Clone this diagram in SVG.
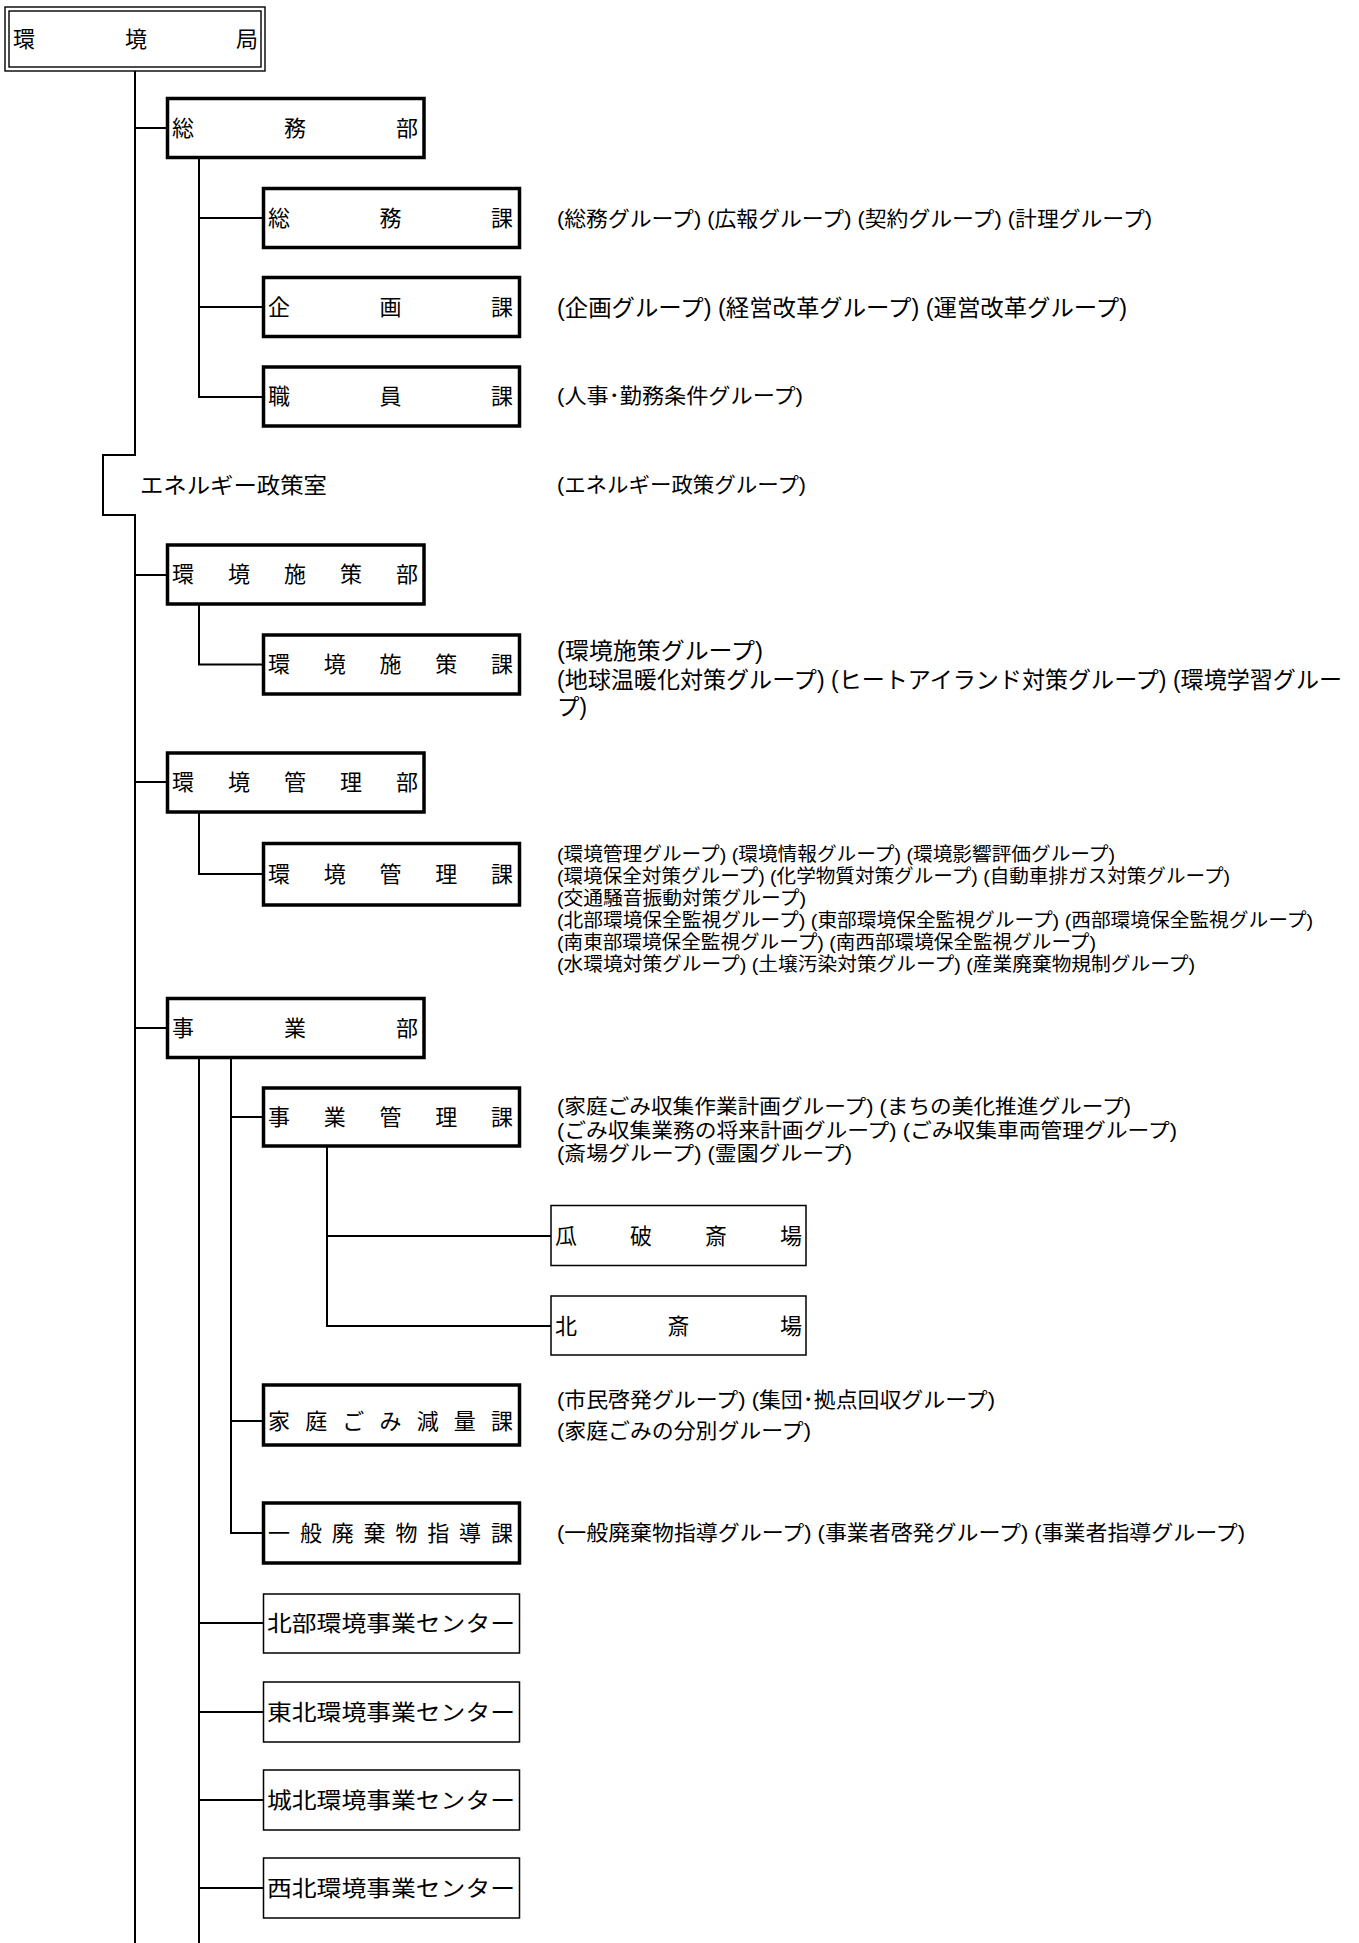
<svg xmlns="http://www.w3.org/2000/svg" width="1359" height="1943" viewBox="0 0 1359 1943">
<style>
.bg{fill:#fff}
.thick{fill:#fff;stroke:#000;stroke-width:3.5}
.thin{fill:#fff;stroke:#000;stroke-width:1.5}
.dbl{fill:none;stroke:#000;stroke-width:1.4}
.con{fill:none;stroke:#000;stroke-width:2}
text{font-family:"Noto Sans CJK JP","Noto Sans CJK SC",sans-serif;fill:#000}
.bx{font-size:22px}
.g,.g19,.g23,.g20{font-family:"Liberation Sans","Noto Sans CJK JP",sans-serif}
.g{font-size:21px}
.g20{font-size:20.5px}
.g19{font-size:19px}
.g23{font-size:23px}
</style>
<rect class="bg" x="0" y="0" width="1359" height="1943"/>
<g id="connectors">
<path class="con" d="M135,71 V455 H103 V515 H135 V1943"/>
<path class="con" d="M135,128 H167.5 M135,575 H167.5 M135,782 H167.5 M135,1028 H167.5"/>
<path class="con" d="M199,157.5 V397 H263.5 M199,218 H263.5 M199,307 H263.5"/>
<path class="con" d="M199,604 V664.5 H263.5"/>
<path class="con" d="M199,812 V874 H263.5"/>
<path class="con" d="M199,1057.5 V1943 M199,1623 H263.5 M199,1712 H263.5 M199,1800 H263.5 M199,1888 H263.5"/>
<path class="con" d="M231,1057.5 V1533 H263.5 M231,1117 H263.5 M231,1421 H263.5"/>
<path class="con" d="M327,1146 V1326 H551 M327,1236 H551"/>
</g>
<g id="kankyokyoku">
<rect class="dbl" x="5" y="7" width="260" height="64"/>
<rect class="dbl" x="9" y="11" width="252" height="56"/>
<text class="bx" x="13 125 236" y="46.5">環境局</text>
</g>
<g id="somubu">
<rect class="thick" x="167.5" y="98.5" width="256.5" height="59"/>
<text class="bx" x="172 284 396" y="135.5">総務部</text>
</g>
<g id="somuka">
<rect class="thick" x="263.5" y="188.5" width="256" height="59"/>
<text class="bx" x="268 379.5 491" y="225.5">総務課</text>
<text class="g" x="557" y="226" textLength="595" lengthAdjust="spacingAndGlyphs">(総務グループ) (広報グループ) (契約グループ) (計理グループ)</text>
</g>
<g id="kikakuka">
<rect class="thick" x="263.5" y="277.5" width="256" height="59"/>
<text class="bx" x="268 379.5 491" y="314.5">企画課</text>
<text class="g23" x="557" y="315.5" textLength="570" lengthAdjust="spacingAndGlyphs">(企画グループ) (経営改革グループ) (運営改革グループ)</text>
</g>
<g id="shokuinka">
<rect class="thick" x="263.5" y="367" width="256" height="59"/>
<text class="bx" x="268 379.5 491" y="404">職員課</text>
<text class="g" x="557" y="403" textLength="246" lengthAdjust="spacingAndGlyphs">(人事･勤務条件グループ)</text>
</g>
<g id="energy">
<text class="bx" x="140" y="493" textLength="187" lengthAdjust="spacingAndGlyphs">エネルギー政策室</text>
<text class="g" x="557" y="492" textLength="249" lengthAdjust="spacingAndGlyphs">(エネルギー政策グループ)</text>
</g>
<g id="shisakubu">
<rect class="thick" x="167.5" y="545" width="256.5" height="59"/>
<text class="bx" x="172 228 284 340 396" y="582">環境施策部</text>
</g>
<g id="shisakuka">
<rect class="thick" x="263.5" y="635" width="256" height="59"/>
<text class="bx" x="268 323.75 379.5 435.25 491" y="672">環境施策課</text>
<text class="g23" x="557" y="658.7" textLength="206" lengthAdjust="spacingAndGlyphs">(環境施策グループ)</text>
<text class="g23" x="557" y="687.7" textLength="785" lengthAdjust="spacingAndGlyphs">(地球温暖化対策グループ) (ヒートアイランド対策グループ) (環境学習グルー</text>
<text class="g23" x="557" y="714.7" textLength="30" lengthAdjust="spacingAndGlyphs">プ)</text>
</g>
<g id="kanribu">
<rect class="thick" x="167.5" y="753" width="256.5" height="59"/>
<text class="bx" x="172 228 284 340 396" y="790">環境管理部</text>
</g>
<g id="kanrika">
<rect class="thick" x="263.5" y="843.5" width="256" height="61.5"/>
<text class="bx" x="268 323.75 379.5 435.25 491" y="881.5">環境管理課</text>
<text class="g19" x="557" y="861" textLength="558" lengthAdjust="spacingAndGlyphs">(環境管理グループ) (環境情報グループ) (環境影響評価グループ)</text>
<text class="g19" x="557" y="883" textLength="673" lengthAdjust="spacingAndGlyphs">(環境保全対策グループ) (化学物質対策グループ) (自動車排ガス対策グループ)</text>
<text class="g19" x="557" y="905" textLength="249" lengthAdjust="spacingAndGlyphs">(交通騒音振動対策グループ)</text>
<text class="g19" x="557" y="927" textLength="756" lengthAdjust="spacingAndGlyphs">(北部環境保全監視グループ) (東部環境保全監視グループ) (西部環境保全監視グループ)</text>
<text class="g19" x="557" y="949" textLength="539" lengthAdjust="spacingAndGlyphs">(南東部環境保全監視グループ) (南西部環境保全監視グループ)</text>
<text class="g19" x="557" y="971" textLength="638" lengthAdjust="spacingAndGlyphs">(水環境対策グループ) (土壌汚染対策グループ) (産業廃棄物規制グループ)</text>
</g>
<g id="jigyobu">
<rect class="thick" x="167.5" y="998.5" width="256.5" height="59"/>
<text class="bx" x="172 284 396" y="1035.5">事業部</text>
</g>
<g id="jigyokanrika">
<rect class="thick" x="263.5" y="1088" width="256" height="58"/>
<text class="bx" x="268 323.75 379.5 435.25 491" y="1124.5">事業管理課</text>
<text class="g20" x="557" y="1114" textLength="574" lengthAdjust="spacingAndGlyphs">(家庭ごみ収集作業計画グループ) (まちの美化推進グループ)</text>
<text class="g20" x="557" y="1137.5" textLength="620" lengthAdjust="spacingAndGlyphs">(ごみ収集業務の将来計画グループ) (ごみ収集車両管理グループ)</text>
<text class="g20" x="557" y="1161" textLength="295" lengthAdjust="spacingAndGlyphs">(斎場グループ) (霊園グループ)</text>
</g>
<g id="uryuri">
<rect class="thin" x="551" y="1205.5" width="255" height="60"/>
<text class="bx" x="555 630 705 780" y="1243.5">瓜破斎場</text>
</g>
<g id="kitasaijo">
<rect class="thin" x="551" y="1296" width="255" height="59"/>
<text class="bx" x="555 667.5 780" y="1333.5">北斎場</text>
</g>
<g id="katei">
<rect class="thick" x="263.5" y="1385" width="256" height="60"/>
<text class="bx" x="268 305.2 342.3 379.5 416.7 453.8 491" y="1429">家庭ごみ減量課</text>
<text class="g" x="557" y="1407" textLength="438" lengthAdjust="spacingAndGlyphs">(市民啓発グループ) (集団･拠点回収グループ)</text>
<text class="g" x="557" y="1438" textLength="254" lengthAdjust="spacingAndGlyphs">(家庭ごみの分別グループ)</text>
</g>
<g id="ippan">
<rect class="thick" x="263.5" y="1503" width="256" height="60"/>
<text class="bx" x="268 299.9 331.7 363.6 395.4 427.3 459.1 491" y="1541">一般廃棄物指導課</text>
<text class="g" x="557" y="1540" textLength="688" lengthAdjust="spacingAndGlyphs">(一般廃棄物指導グループ) (事業者啓発グループ) (事業者指導グループ)</text>
</g>
<g id="hokubu">
<rect class="thin" x="263.5" y="1594" width="256" height="59"/>
<text class="bx" x="267" y="1631" textLength="248" lengthAdjust="spacingAndGlyphs">北部環境事業センター</text>
</g>
<g id="tohoku">
<rect class="thin" x="263.5" y="1682" width="256" height="60"/>
<text class="bx" x="267" y="1720" textLength="248" lengthAdjust="spacingAndGlyphs">東北環境事業センター</text>
</g>
<g id="johoku">
<rect class="thin" x="263.5" y="1770" width="256" height="60"/>
<text class="bx" x="267" y="1808" textLength="248" lengthAdjust="spacingAndGlyphs">城北環境事業センター</text>
</g>
<g id="seihoku">
<rect class="thin" x="263.5" y="1858" width="256" height="60"/>
<text class="bx" x="267" y="1896" textLength="248" lengthAdjust="spacingAndGlyphs">西北環境事業センター</text>
</g>
</svg>
